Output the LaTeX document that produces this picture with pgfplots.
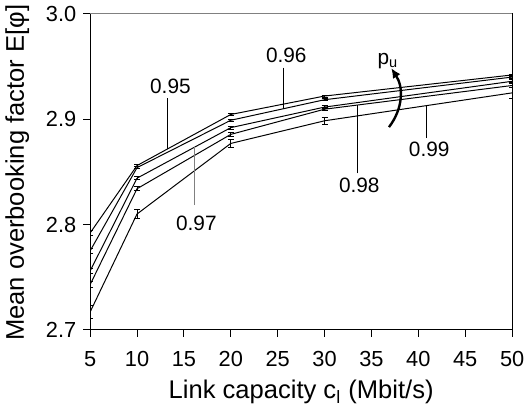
\documentclass[border=0pt]{standalone}
\usepackage{pgfplots}
\pgfplotsset{compat=1.18}
\usepackage{fontspec}
\setmainfont{Liberation Sans}
\usetikzlibrary{arrows.meta,calc}

\begin{document}
\begin{tikzpicture}
\begin{axis}[
    name=ax,
    scale only axis,
    width=213pt, height=159.5pt,
    xmin=5, xmax=50, ymin=2.7, ymax=3.0,
    xtick={5,10,...,50},
    ytick={2.7,2.8,2.9,3.0},
    yticklabel style={/pgf/number format/.cd, fixed, fixed zerofill, precision=1},
    xticklabel style={yshift=-4pt},
    /pgf/number format/assume math mode=true,
    tick label style={font=\fontsize{11}{12}\selectfont},
    tick align=outside, xtick pos=bottom, ytick pos=left,
    major tick length=3.5pt,
    tick style={black, line width=0.5pt},
    axis line style={black, line width=0.6pt},
    xlabel={Link capacity c\textsubscript{l} (Mbit/s)},
    ylabel={Mean overbooking factor E[φ]},
    every axis x label/.style={at={(axis description cs:0.5,0)}, anchor=center, yshift=-31.5pt,
        font=\fontsize{12.9}{15}\selectfont},
    every axis y label/.style={at={(axis description cs:-0.1725,0.497)}, anchor=center, rotate=90,
        font=\fontsize{12.9}{15}\selectfont},
    error bars/error bar style={line width=0.4pt},
    error bars/error mark options={rotate=90, mark size=1.5pt, line width=0.4pt},
]
% p_u = 0.95
\addplot[black, line width=0.5pt, mark=none, error bars/.cd, y dir=both, y explicit] coordinates {
    (5,2.792) +- (0,0.002) (10,2.856) +- (0,0.001) (20,2.9045) +- (0,0.001)
    (30,2.922) +- (0,0.001) (50,2.942) +- (0,0.001)
};
% p_u = 0.96
\addplot[black, line width=0.5pt, mark=none, error bars/.cd, y dir=both, y explicit] coordinates {
    (5,2.775) +- (0,0.002) (10,2.854) +- (0,0.001) (20,2.899) +- (0,0.001)
    (30,2.9185) +- (0,0.001) (50,2.940) +- (0,0.0015)
};
% p_u = 0.97
\addplot[black, line width=0.5pt, mark=none, error bars/.cd, y dir=both, y explicit] coordinates {
    (5,2.756) +- (0,0.002) (10,2.844) +- (0,0.0015) (20,2.892) +- (0,0.0015)
    (30,2.9115) +- (0,0.0015) (50,2.936) +- (0,0.0015)
};
% p_u = 0.98
\addplot[black, line width=0.5pt, mark=none, error bars/.cd, y dir=both, y explicit] coordinates {
    (5,2.743) +- (0,0.003) (10,2.834) +- (0,0.002) (20,2.8856) +- (0,0.002)
    (30,2.9095) +- (0,0.0015) (50,2.932) +- (0,0.002)
};
% p_u = 0.99
\addplot[black, line width=0.5pt, mark=none, error bars/.cd, y dir=both, y explicit] coordinates {
    (5,2.717) +- (0,0.006) (10,2.810) +- (0,0.004) (20,2.877) +- (0,0.004)
    (30,2.8985) +- (0,0.003) (50,2.925) +- (0,0.005)
};

% labels with leader lines
\begin{scope}[every node/.style={font=\fontsize{10.5}{12}\selectfont}]
\node at (axis cs:13.56,2.9313) {0.95};
\draw[line width=0.5pt] (axis cs:13.27,2.920) -- (axis cs:13.27,2.8719);
\node at (axis cs:25.92,2.9608) {0.96};
\draw[line width=0.5pt] (axis cs:25.67,2.9489) -- (axis cs:25.67,2.910);
\node at (axis cs:16.33,2.801) {0.97};
\draw[gray, line width=0.5pt] (axis cs:16.17,2.8184) -- (axis cs:16.17,2.8736);
\node at (axis cs:33.70,2.837) {0.98};
\draw[line width=0.5pt] (axis cs:33.52,2.8485) -- (axis cs:33.52,2.9135);
\node at (axis cs:41.16,2.871) {0.99};
\draw[line width=0.5pt] (axis cs:40.92,2.882) -- (axis cs:40.92,2.9130);
\node at (axis cs:36.75,2.9555) {p\textsubscript{u}};
\end{scope}
\draw[line width=1.2pt, -{Latex[length=5pt,width=4.5pt]}]
    (axis cs:36.87,2.8925) to[bend right=35] (axis cs:37.11,2.9485);
\end{axis}
\draw[gray, line width=0.6pt] (ax.north west) -- (ax.north east);
\pgfresetboundingbox
\path[use as bounding box] ($(ax.south west)+(-45.5pt,-40.5pt)$) rectangle ($(ax.south west)+(220pt,166.5pt)$);
\end{tikzpicture}
\end{document}
